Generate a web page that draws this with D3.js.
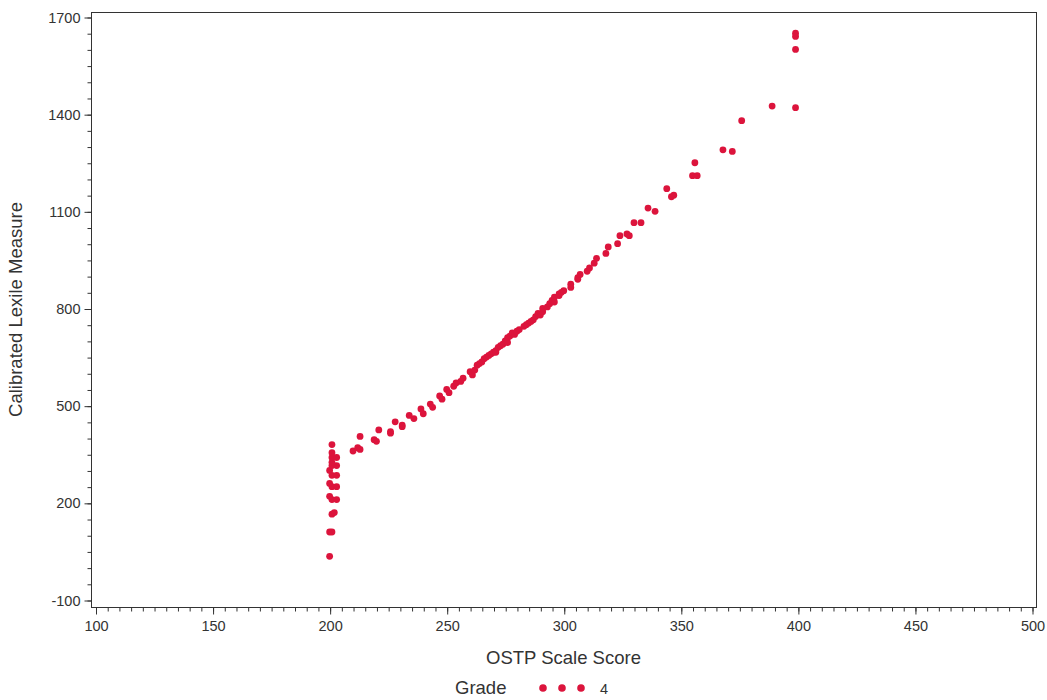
<!DOCTYPE html>
<html>
<head>
<meta charset="utf-8">
<script src="https://cdn.jsdelivr.net/npm/d3@7"></script>
<style>
  body { margin: 0; background: #fff; }
  svg { font-family: "Liberation Sans", Arial, sans-serif; }
</style>
</head>
<body>
<svg id="chart" width="1047" height="700"></svg>
<script>
// OSTP scale score (x) for each student, grade 4
const scores = [
  200, 200, 201, 201, 202, 201, 203, 200, 201, 203,
  200, 201, 203, 200, 201, 203, 201, 201, 203, 201,
  201,
  210, 212, 213, 213, 219, 220, 221, 226, 226, 228,
  231, 231, 234, 236, 239, 240, 243, 244, 247, 248,
  250, 251, 253, 254, 256, 257, 260, 261, 262, 263,
  264, 265, 266, 267, 268, 269, 270, 271, 271, 272,
  273, 274, 275, 276, 276, 277, 278, 279, 280, 281,
  283, 284, 285, 286, 287, 288, 289, 290, 291, 291,
  293, 294, 295, 296, 296, 298, 298, 299, 300, 303,
  303, 306, 306, 307, 310, 311, 313, 314, 318, 319,
  323, 324, 327, 328, 330, 333, 336, 339, 344, 346,
  347, 355, 357, 356, 368, 372, 376, 389, 399, 399,
  399, 399
];
// calibrated lexile measure (y), same order as scores
const lexiles = [
  35, 110, 110, 165, 170, 210, 210, 220, 250, 250,
  260, 285, 285, 300, 315, 315, 325, 340, 340, 355,
  380,
  360, 370, 365, 405, 395, 390, 425, 420, 415, 450,
  440, 435, 470, 460, 490, 475, 505, 495, 530, 520,
  550, 540, 560, 570, 575, 585, 605, 595, 610, 625,
  630, 635, 645, 650, 655, 660, 665, 670, 665, 680,
  685, 690, 700, 695, 710, 715, 725, 720, 730, 735,
  745, 750, 755, 760, 765, 775, 785, 780, 790, 800,
  805, 815, 825, 820, 835, 840, 845, 850, 855, 865,
  875, 890, 895, 905, 915, 925, 940, 955, 970, 990,
  1000, 1025, 1030, 1025, 1065, 1065, 1110, 1100, 1170, 1145,
  1150, 1210, 1210, 1250, 1290, 1285, 1380, 1425, 1420, 1600,
  1640, 1650
];
const xTicks = [100, 150, 200, 250, 300, 350, 400, 450, 500];
const yTicks = [-100, 200, 500, 800, 1100, 1400, 1700];
const legendGroups = ["4"];

const svg = d3.select("#chart");
const frame = { left: 91, right: 1036, top: 12, bottom: 607 };
const dotColor = "#dc143c";
const axisColor = "#333";
const plain = d => String(d); // keeps "-100" with a hyphen and no thousands comma

const x = d3.scaleLinear().domain([100, 500]).range([95.5, 1032]);
const y = d3.scaleLinear().domain([-100, 1700]).range([600, 17]);

// frame
svg.append("rect")
  .attr("x", frame.left + 0.5).attr("y", frame.top + 0.5)
  .attr("width", frame.right - frame.left).attr("height", frame.bottom - frame.top)
  .attr("fill", "none").attr("stroke", axisColor).attr("stroke-width", 1);

// x axis: minor then major
const xMinor = svg.append("g").attr("transform", `translate(0.5,${frame.bottom + 0.5})`)
  .call(d3.axisBottom(x).tickValues(d3.range(100, 501, 5)).tickSize(4).tickFormat(""));
const xAxis = svg.append("g").attr("transform", `translate(0.5,${frame.bottom + 0.5})`)
  .call(d3.axisBottom(x).tickValues(xTicks).tickSize(7).tickPadding(6).tickFormat(plain));

// y axis
const yMinor = svg.append("g").attr("transform", `translate(${frame.left + 0.5},0.5)`)
  .call(d3.axisLeft(y).tickValues(d3.range(-100, 1701, 50)).tickSize(4).tickFormat(""));
const yAxis = svg.append("g").attr("transform", `translate(${frame.left + 0.5},0.5)`)
  .call(d3.axisLeft(y).tickValues(yTicks).tickSize(7).tickPadding(4).tickFormat(plain));

[xMinor, xAxis, yMinor, yAxis].forEach(g => {
  g.select(".domain").remove();
  g.selectAll("line").attr("stroke", axisColor);
  g.selectAll("text").attr("fill", axisColor).attr("font-size", 14.5)
    .attr("font-family", "Liberation Sans, Arial, sans-serif");
});

// axis titles
svg.append("text")
  .attr("x", (frame.left + frame.right) / 2).attr("y", 664)
  .attr("text-anchor", "middle").attr("font-size", 18.5).attr("fill", axisColor)
  .text("OSTP Scale Score");
svg.append("text")
  .attr("transform", `translate(22,${(frame.top + frame.bottom) / 2}) rotate(-90)`)
  .attr("text-anchor", "middle").attr("font-size", 18.5).attr("fill", axisColor)
  .text("Calibrated Lexile Measure");

// points
svg.append("g").selectAll("circle")
  .data(scores.map((s, i) => ({ s: s, v: lexiles[i] })))
  .join("circle")
  .attr("cx", d => x(d.s))
  .attr("cy", d => y(d.v))
  .attr("r", 3.4)
  .attr("fill", dotColor);

// legend
const legend = svg.append("g").attr("transform", "translate(0,688)");
legend.append("text").attr("x", 455).attr("y", 6).attr("font-size", 18.5)
  .attr("fill", axisColor).text("Grade");
legendGroups.forEach(g => {
  legend.selectAll("circle.l").data([543, 562, 581]).join("circle")
    .attr("cx", d => d).attr("cy", 0).attr("r", 3.8).attr("fill", dotColor);
  legend.append("text").attr("x", 600).attr("y", 5.5).attr("font-size", 14.5)
    .attr("fill", axisColor).text(g);
});
</script>
</body>
</html>
